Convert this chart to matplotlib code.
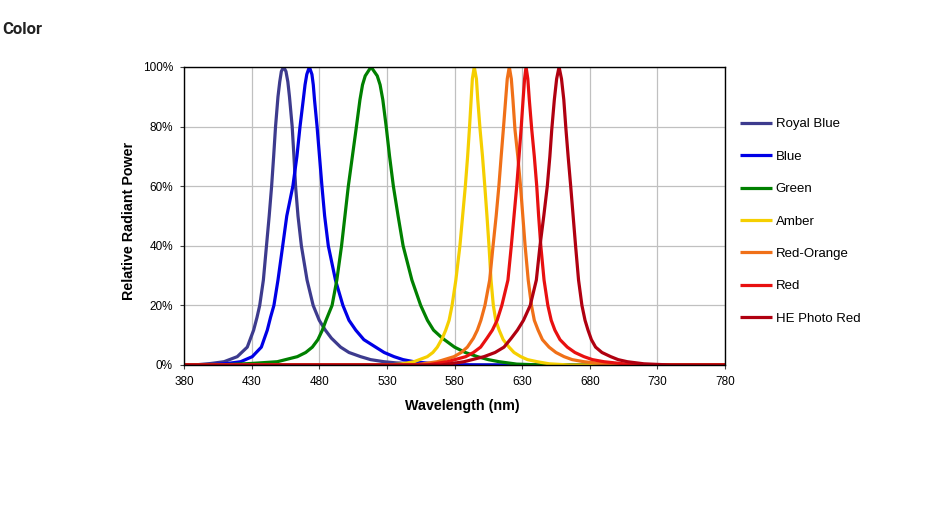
import matplotlib.pyplot as plt
from matplotlib.ticker import FuncFormatter

plt.rcParams['font.family'] = ['Liberation Sans', 'DejaVu Sans']

# spectra: (wavelength nm, relative power %)
royal_blue = [(380, 0), (390, 0.1), (399.7, 0.5), (409.6, 1.1), (419.4, 2.8), (426.8, 6),
              (431.5, 11.7), (434, 16), (436, 20), (438.7, 28.5), (441, 40), (443, 50),
              (444.8, 60), (446.3, 70), (447.7, 80), (449.5, 90), (450.8, 95), (452, 98.5),
              (453.7, 100), (455.4, 98.5), (456.8, 95), (458, 90), (460, 80), (461.3, 70),
              (462.5, 60), (464.3, 50), (466.8, 40), (471, 28.5), (475.5, 20), (480, 15),
              (484.5, 11.7), (489, 9), (495.8, 6), (502, 4.2), (510.6, 2.8), (518, 1.8),
              (527.9, 1.1), (537, 0.7), (547.6, 0.5), (560, 0.2), (580, 0), (780, 0)]
blue = [(380, 0), (400, 0.1), (412, 0.5), (421.9, 1.1), (430.5, 2.8), (437.2, 6), (441.6, 11.7),
        (444, 16), (446.5, 20), (449.5, 28.5), (453, 40), (456, 50), (460.5, 60), (463.5, 70),
        (465.8, 80), (468.2, 89), (469.5, 94), (470.8, 97.5), (472.7, 100), (474.6, 97.5),
        (475.6, 94), (476.5, 89), (478.4, 80), (480.2, 70), (482, 60), (484, 50), (486.7, 40),
        (492, 28.5), (497.5, 20), (502, 15), (507, 11.7), (513, 8.5), (521.7, 6), (528, 4.2),
        (535.3, 2.8), (542, 1.8), (550, 1.1), (562.4, 0.5), (580, 0.1), (600, 0), (780, 0)]
green = [(380, 0), (410, 0.1), (429.3, 0.5), (449, 1.1), (463.8, 2.8), (470, 4.2), (474.9, 6),
         (479, 8.5), (482.3, 11.7), (485, 15), (489.5, 20), (493, 28.5), (496.5, 40), (499, 50),
         (501.5, 60), (504.5, 70), (507.2, 79), (510.1, 89), (512, 94), (514, 97), (518.3, 100),
         (522.9, 97), (525, 94), (527, 89), (529.5, 80), (532, 70), (534.8, 60), (538.3, 50),
         (542, 40), (548.5, 28.5), (555, 20), (560, 15), (564.5, 11.7), (571, 9), (580, 6),
         (588, 4.2), (597, 2.8), (605, 1.8), (613, 1.1), (626, 0.3), (645, 0), (780, 0)]
amber = [(380, 0), (530, 0), (540, 0.3), (550, 1.1), (559.9, 2.8), (564, 4.2), (567.3, 6),
         (571, 9), (573.5, 11.7), (576, 15), (578.2, 20), (581, 28.5), (584, 40), (586, 50),
         (588, 60), (589.7, 70), (591, 79), (592.3, 89), (593.2, 96), (594.6, 100), (596.2, 96),
         (597.2, 89), (598.9, 79), (600.7, 70), (602.4, 60), (604, 50), (605.5, 40),
         (607, 28.5), (608.7, 20), (610.5, 15), (613, 11.7), (616, 8.5), (620.3, 6), (624, 4.2),
         (629, 2.8), (634, 1.8), (641.2, 1.1), (650, 0.4), (665, 0), (780, 0)]
red_orange = [(380, 0), (550, 0), (558, 0.5), (567.3, 1.1), (579.6, 2.8), (585, 4.2), (589.5, 6),
              (594, 9), (596.9, 11.7), (599.5, 15), (602.5, 20), (606, 28.5), (608.5, 40),
              (610.8, 50), (612.8, 60), (614.5, 70), (616.1, 79), (617.8, 89), (619, 96),
              (620.5, 100), (622, 96), (623.2, 89), (624.7, 79), (626.8, 70), (628.8, 60),
              (630.5, 50), (632.2, 40), (634.5, 28.5), (636.9, 20), (639, 15), (641.8, 11.7),
              (645, 8.5), (649.9, 6), (655, 4.2), (661, 2.8), (667, 1.8), (675.7, 1.1),
              (690, 0.4), (710, 0), (780, 0)]
red = [(380, 0), (560, 0), (566, 0.5), (574.7, 1.1), (588.3, 2.8), (594, 4.2), (599.3, 6),
       (604, 9), (608, 11.7), (611.5, 15), (615, 20), (619.5, 28.5), (622, 40), (624, 50),
       (626, 60), (627.7, 70), (629.2, 79), (630.7, 89), (631.8, 96), (632.9, 100), (634.2, 96),
       (635.3, 89), (637.1, 79), (639, 70), (640.8, 60), (642.2, 50), (643.8, 40), (646.2, 28.5),
       (649, 20), (651.5, 15), (654.2, 11.7), (658, 8.5), (663.4, 6), (669, 4.2), (675.7, 2.8),
       (682, 1.8), (690.5, 1.1), (705, 0.4), (725, 0), (780, 0)]
he_photo_red = [(380, 0), (570, 0), (578, 0.5), (587, 1.1), (601.8, 2.8), (610, 4.2), (616.6, 6),
                (622, 9), (626.5, 11.7), (631, 15), (636, 20), (640.5, 28.5), (643.2, 40),
                (646, 50), (648.6, 60), (650.5, 70), (651.9, 79), (653.8, 89), (655.5, 96),
                (657.3, 100), (659.1, 96), (660.8, 89), (662.4, 79), (664, 70), (665.9, 60),
                (667.7, 50), (669.5, 40), (671.7, 28.5), (674.2, 20), (676.5, 15), (678.7, 11.7),
                (681.2, 8.5), (684.3, 6), (689, 4.2), (695.5, 2.8), (701, 1.8), (707.8, 1.1),
                (720, 0.4), (740, 0), (780, 0)]

names = ['Royal Blue', 'Blue', 'Green', 'Amber', 'Red-Orange', 'Red', 'HE Photo Red']
series = [royal_blue, blue, green, amber, red_orange, red, he_photo_red]
colors = ['#3d3b8e', '#0000e6', '#008000', '#f5cf00', '#f07018', '#e81010', '#b00010']

fig = plt.figure(figsize=(9.41, 5.13), dpi=100)
ax = fig.add_axes([0.1955, 0.2885, 0.575, 0.581])

for name, data, c in zip(names, series, colors):
    x = [p[0] for p in data]
    y = [p[1] / 100 for p in data]
    ax.plot(x, y, color=c, lw=2.3, label=name, solid_joinstyle='round', solid_capstyle='butt')

ax.set_xlim(380, 780)
ax.set_ylim(0, 1)
ax.set_xticks(range(380, 781, 50))
ax.set_yticks([0, 0.2, 0.4, 0.6, 0.8, 1.0])
ax.yaxis.set_major_formatter(FuncFormatter(lambda v, p: f'{v * 100:.0f}%'))
ax.grid(True, color='#c0c0c0', lw=0.9)
ax.set_axisbelow(True)
ax.tick_params(labelsize=8.5, length=3, width=0.8, color='#404040', pad=5)
for s in ax.spines.values():
    s.set_color('black')
    s.set_linewidth(1.0)

ax.set_xlabel('Wavelength (nm)', fontsize=10.3, fontweight='bold')
ax.set_ylabel('Relative Radiant Power', fontsize=10.3, fontweight='bold')
ax.xaxis.set_label_coords(0.515, -0.115)
ax.yaxis.set_label_coords(-0.088, 0.483)

fig.legend(loc='upper left', bbox_to_anchor=(0.781, 0.780), frameon=False, fontsize=9.5,
           handlelength=2.4, handletextpad=0.3, labelspacing=1.53, borderaxespad=0)

fig.text(0.002, 0.943, 'Color', fontsize=12, fontweight='bold', va='center',
         family=['Roboto', 'DejaVu Sans'], color='#222222')

fig.savefig('out.png', dpi=100)
